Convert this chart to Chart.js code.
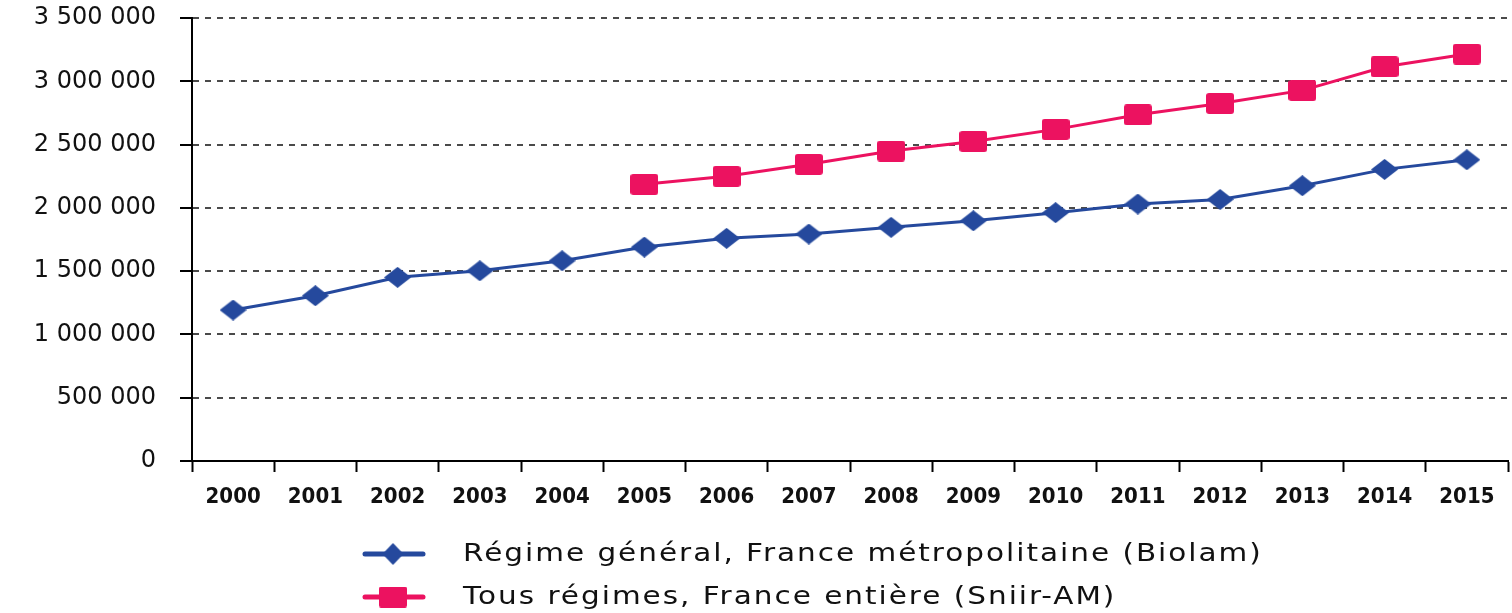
<!DOCTYPE html>
<html>
<head>
<meta charset="utf-8">
<script src="https://cdn.jsdelivr.net/npm/chart.js@4/dist/chart.umd.min.js"></script>
<style>
  html, body { margin: 0; padding: 0; background: #ffffff; }
  #wrap { width: 1512px; height: 613px; position: relative; }
</style>
</head>
<body>
<div id="wrap"><canvas id="c" width="1512" height="613"></canvas></div>
<script>
// ---- data ----
const years = ['2000','2001','2002','2003','2004','2005','2006','2007','2008','2009','2010','2011','2012','2013','2014','2015'];
const biolamLabel = 'Régime général, France métropolitaine (Biolam)';
const biolamValues = [1193000, 1306000, 1451000, 1503000, 1582000, 1690000, 1759000, 1793000, 1846000, 1898000, 1962000, 2030000, 2066000, 2175000, 2304000, 2380000];
const sniiramLabel = 'Tous régimes, France entière (Sniir-AM)';
const sniiramValues = [null, null, null, null, null, 2186000, 2249000, 2344000, 2449000, 2525000, 2620000, 2735000, 2825000, 2928000, 3115000, 3215000];
const yTicks = [0, 500000, 1000000, 1500000, 2000000, 2500000, 3000000, 3500000];

// ---- styles ----
const BLUE = '#25499d';
const PINK = '#ec1260';

function diamondImg(w, h, color) {
  const c = document.createElement('canvas');
  c.width = w; c.height = h;
  const g = c.getContext('2d');
  g.fillStyle = color;
  g.beginPath();
  g.moveTo(w / 2, 0); g.lineTo(w, h / 2); g.lineTo(w / 2, h); g.lineTo(0, h / 2);
  g.closePath(); g.fill();
  return c;
}
function squareImg(w, h, r, color) {
  const c = document.createElement('canvas');
  c.width = w; c.height = h;
  const g = c.getContext('2d');
  g.fillStyle = color;
  g.beginPath();
  g.roundRect(0, 0, w, h, r);
  g.fill();
  return c;
}
const diamond = diamondImg(27, 21, BLUE);
const square = squareImg(28, 21, 3, PINK);
const legendDiamond = diamondImg(21, 22, BLUE);
const legendSquare = squareImg(28, 21, 2, PINK);

function fmt(v) {
  return String(v).replace(/\B(?=(\d{3})+(?!\d))/g, ' ');
}

const LEGEND_FONT = '25px "DejaVu Sans", sans-serif';
const LEGEND_ROW1_WIDTH = 798;
const LEGEND_STRETCH = 1.18;

const legendPlugin = {
  id: 'customLegend',
  afterDraw(chart) {
    const ctx = chart.ctx;
    const markers = [legendDiamond, legendSquare];
    const rows = [554, 597];
    ctx.save();
    ctx.font = LEGEND_FONT;
    try { ctx.letterSpacing = '0px'; } catch (e) {}
    const first = chart.data.datasets[0].label;
    const w0 = ctx.measureText(first).width;
    const spacing = Math.max(0, (LEGEND_ROW1_WIDTH / LEGEND_STRETCH - w0) / Math.max(1, first.length - 1));
    chart.data.datasets.forEach((ds, i) => {
      const y = rows[i];
      ctx.strokeStyle = ds.borderColor;
      ctx.lineWidth = 5;
      ctx.lineCap = 'round';
      ctx.beginPath();
      ctx.moveTo(365, y); ctx.lineTo(423, y);
      ctx.stroke();
      const m = markers[i];
      ctx.drawImage(m, 393 - m.width / 2, y - m.height / 2);
      ctx.save();
      ctx.translate(463, y);
      ctx.scale(LEGEND_STRETCH, 1);
      ctx.fillStyle = '#111111';
      ctx.font = LEGEND_FONT;
      try { ctx.letterSpacing = spacing.toFixed(2) + 'px'; } catch (e) {}
      ctx.textBaseline = 'middle';
      ctx.textAlign = 'left';
      ctx.fillText(ds.label, 0, 0);
      ctx.restore();
    });
    ctx.restore();
  }
};

new Chart(document.getElementById('c'), {
  type: 'line',
  data: {
    labels: years,
    datasets: [
      {
        label: biolamLabel,
        data: biolamValues,
        borderColor: BLUE,
        backgroundColor: BLUE,
        borderWidth: 3,
        pointStyle: diamond,
        pointRadius: 3,
        pointBorderWidth: 0,
        tension: 0,
        spanGaps: false
      },
      {
        label: sniiramLabel,
        data: sniiramValues,
        borderColor: PINK,
        backgroundColor: PINK,
        borderWidth: 3,
        pointStyle: square,
        pointRadius: 3,
        pointBorderWidth: 0,
        tension: 0,
        spanGaps: false
      }
    ]
  },
  options: {
    responsive: false,
    animation: false,
    devicePixelRatio: 1,
    layout: { padding: { top: 18, right: 4, bottom: 102, left: 0 } },
    plugins: {
      legend: { display: false },
      tooltip: { enabled: false }
    },
    scales: {
      x: {
        offset: true,
        grid: {
          display: true,
          offset: true,
          drawOnChartArea: false,
          drawTicks: true,
          tickLength: 11,
          tickColor: '#000000',
          tickWidth: 2
        },
        border: { display: true, color: '#000000', width: 2 },
        ticks: {
          color: '#111111',
          padding: 12,
          maxRotation: 0,
          autoSkip: false,
          font: { family: "'Liberation Sans Narrow', 'DejaVu Sans Condensed', sans-serif", size: 22, weight: 'bold' }
        },
        afterFit(scale) { scale.height = 50; scale.paddingLeft = 0; scale.paddingRight = 0; }
      },
      y: {
        min: 0,
        max: 3500000,
        afterBuildTicks(scale) { scale.ticks = yTicks.map(v => ({ value: v })); },
        grid: {
          display: true,
          color: '#4a4a4a',
          lineWidth: 2,
          drawTicks: true,
          tickLength: 12,
          tickColor: '#000000',
          tickWidth: 2,
          tickBorderDash: []
        },
        border: { display: true, color: '#000000', width: 2, dash: [6, 6] },
        ticks: {
          color: '#111111',
          padding: 24,
          font: { family: "'DejaVu Sans', sans-serif", size: 24 },
          callback: (v) => fmt(v)
        },
        afterFit(scale) { scale.width = 192; scale.paddingTop = 0; scale.paddingBottom = 0; }
      }
    }
  },
  plugins: [legendPlugin]
});
</script>
</body>
</html>
